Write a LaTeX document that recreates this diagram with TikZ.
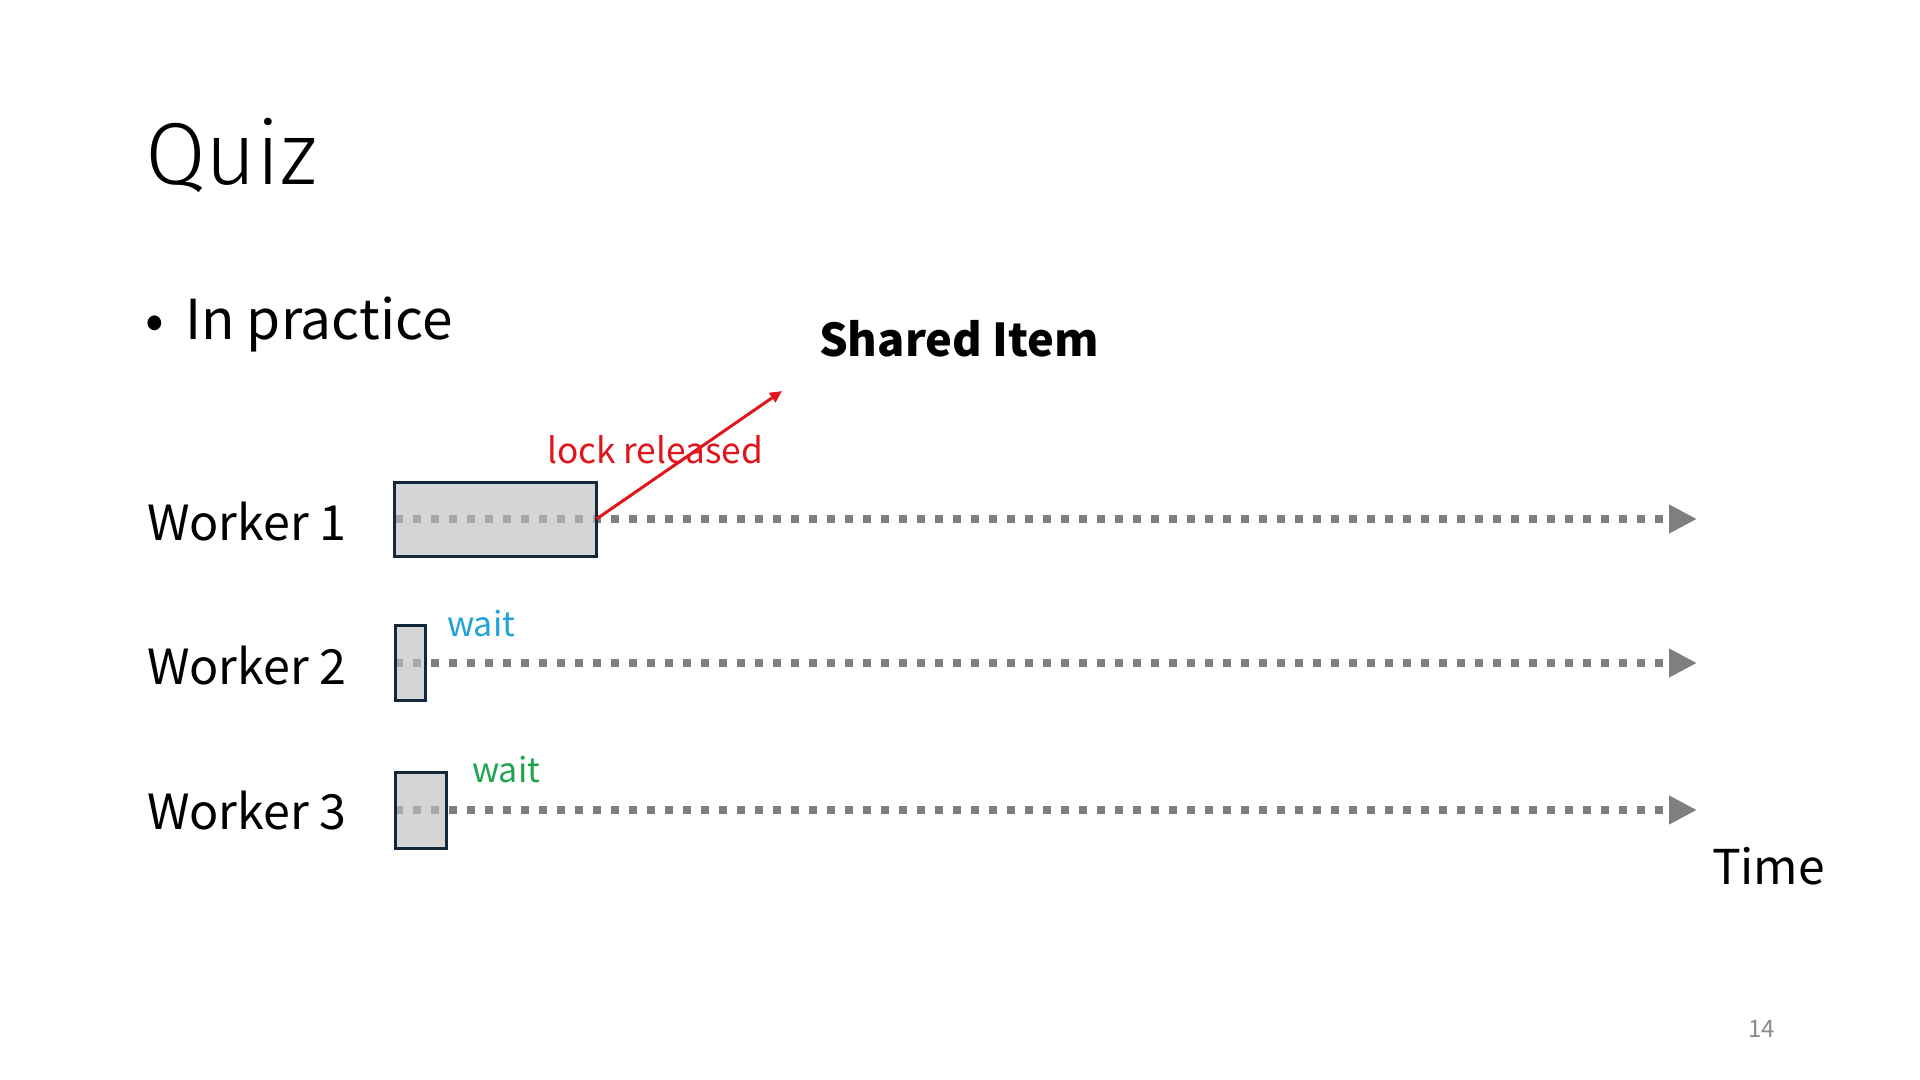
\documentclass[tikz,border=0pt]{standalone}
\usepackage{fontspec}
\setmainfont{Noto Sans CJK JP}
\newfontfamily\titlefont{Fira Sans}[UprightFont=* Light]
\usetikzlibrary{arrows.meta,backgrounds}
\definecolor{lineg}{HTML}{7F7F7F}
\definecolor{boxedge}{HTML}{13283B}
\definecolor{lockred}{HTML}{E0161C}
\definecolor{waitblue}{HTML}{1FA3D6}
\definecolor{waitgreen}{HTML}{1DA64E}
\definecolor{pagegray}{HTML}{8A8A8A}
\tikzset{
  txt/.style={anchor=base west, inner sep=0pt, outer sep=0pt},
  workerlbl/.style={txt, font=\fontsize{24.2}{28}\selectfont},
  lanebox/.style={draw=boxedge, line width=1.5pt, fill=black!25, fill opacity=0.65, draw opacity=1, inner sep=0pt, outer sep=0pt},
  timeline/.style={draw=lineg, line width=4pt, dash pattern=on 4pt off 5pt, -{Triangle[length=14pt,width=13.5pt]}},
  lockarrow/.style={draw=lockred, line width=1.5pt, -{Triangle[length=6pt,width=5.5pt]}},
}
\begin{document}
\begin{tikzpicture}[x=0.5pt,y=-0.5pt]
\useasboundingbox (0,0) rectangle (1920,1080);

% titles
\node[txt, font=\titlefont\fontsize{44}{50}\selectfont] (title) at (145,185) {Quiz};
\node[txt, font=\fontsize{27.5}{32}\selectfont] (bullet) at (145,340) {•};
\node[txt, font=\fontsize{27.5}{32}\selectfont] (practice) at (185,340) {In practice};
\node[txt, font=\bfseries\fontsize{22.6}{26}\selectfont] (shared) at (819,357) {Shared Item};

% worker labels
\node[workerlbl] (lbl1) at (147,540) {Worker 1};
\node[workerlbl] (lbl2) at (147,684) {Worker 2};
\node[workerlbl] (lbl3) at (147,829) {Worker 3};

% boxes
\node[lanebox, minimum width=101pt, minimum height=37pt] (box1) at (495.5,519) {};
\node[lanebox, minimum width=15pt, minimum height=37.5pt] (box2) at (410,663) {};
\node[lanebox, minimum width=25.5pt, minimum height=38pt] (box3) at (420.5,810) {};

\coordinate (end1) at (1697,519);
\coordinate (end2) at (1697,663);
\coordinate (end3) at (1697,810);
\coordinate (sharedtip) at (782,391);

\begin{scope}[on background layer]
\fill[white] (0,0) rectangle (1920,1080);
\draw[timeline] (box1.west) -- (end1);
\draw[timeline] (box2.west) -- (end2);
\draw[timeline] (box3.west) -- (end3);
\end{scope}

\draw[lockarrow] (box1.east) -- (sharedtip);

% annotations
\node[txt, text=lockred, font=\fontsize{17.6}{20}\selectfont] (lock) at (547,463) {lock released};
\node[txt, text=waitblue, font=\fontsize{17}{20}\selectfont] (wait1) at (447,636) {wait};
\node[txt, text=waitgreen, font=\fontsize{17}{20}\selectfont] (wait2) at (472,782) {wait};

\node[txt, font=\fontsize{24}{28}\selectfont] (time) at (1712,884) {Time};
\node[txt, text=pagegray, font=\fontsize{12}{14}\selectfont] (page) at (1748,1037) {14};
\end{tikzpicture}
\end{document}
